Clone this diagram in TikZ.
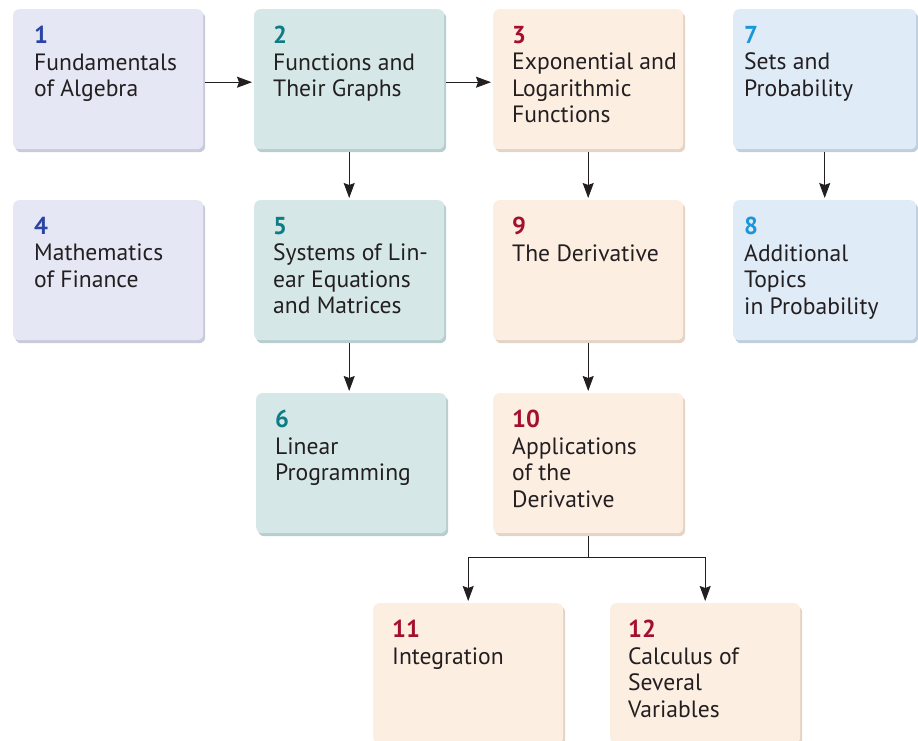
\documentclass[tikz,border=0pt]{standalone}
\usepackage{fontspec}
\setmainfont{PT Sans}
\usetikzlibrary{arrows.meta,shadows}

\definecolor{ink}{HTML}{231F20}
\definecolor{algfill}{HTML}{E6E7F4}
\definecolor{algshade}{HTML}{C9CADB}
\definecolor{algnum}{HTML}{2A44A3}
\definecolor{funfill}{HTML}{D6E7E8}
\definecolor{funshade}{HTML}{B7CDCF}
\definecolor{funnum}{HTML}{0E7C84}
\definecolor{calfill}{HTML}{FDEEE2}
\definecolor{calshade}{HTML}{E4D4C7}
\definecolor{calnum}{HTML}{A3102E}
\definecolor{probfill}{HTML}{DFEBF7}
\definecolor{probshade}{HTML}{C0CFDE}
\definecolor{probnum}{HTML}{1A97D8}

\tikzset{
  chap/.style={anchor=north west, rounded corners=6pt, minimum width=190pt,
    minimum height=140pt, inner sep=0pt},
  alg/.style={chap, fill=algfill,
    drop shadow={shadow xshift=2pt, shadow yshift=-3pt, fill=algshade, opacity=1}},
  fun/.style={chap, fill=funfill,
    drop shadow={shadow xshift=2pt, shadow yshift=-3pt, fill=funshade, opacity=1}},
  cal/.style={chap, fill=calfill,
    drop shadow={shadow xshift=2pt, shadow yshift=-3pt, fill=calshade, opacity=1}},
  prob/.style={chap, fill=probfill,
    drop shadow={shadow xshift=2pt, shadow yshift=-3pt, fill=probshade, opacity=1}},
  lbl/.style={anchor=north west, inner sep=0pt, align=left, text=ink,
    font=\fontsize{23.6pt}{26.5pt}\selectfont},
  link/.style={-{Stealth[length=15pt, width=11pt, inset=2pt]}, line width=1pt,
    draw=ink, shorten >=2pt},
}
\newcommand{\chnum}[2]{{\fontsize{24.5pt}{26.5pt}\selectfont\textbf{\color{#1}#2}}}

\begin{document}
\begin{tikzpicture}[x=1pt, y=-1pt]
    \useasboundingbox (0,0) rectangle (918,741);
    % Cajas de capitulos
    \node[alg] (c1) at (13,9) {};
    \node[fun] (c2) at (254,9) {};
    \node[cal] (c3) at (493,9) {};
    \node[prob, minimum width=183pt] (c7) at (733,9) {};
    \node[alg] (c4) at (13,200) {};
    \node[fun] (c5) at (254,200) {};
    \node[cal] (c9) at (493,200) {};
    \node[prob, minimum width=183pt] (c8) at (733,200) {};
    \node[fun] (c6) at (256,393) {};
    \node[cal] (c10) at (493,393) {};
    \node[cal] (c11) at (373,603) {};
    \node[cal] (c12) at (610,603) {};
    % Textos
    \node[lbl] (t1) at ([shift={(21,17)}]c1.north west) {\chnum{algnum}{1}\\Fundamentals\\of Algebra};
    \node[lbl] (t2) at ([shift={(19,17)}]c2.north west) {\chnum{funnum}{2}\\Functions and\\Their Graphs};
    \node[lbl] (t3) at ([shift={(19,17)}]c3.north west) {\chnum{calnum}{3}\\Exponential and\\Logarithmic\\Functions};
    \node[lbl] (t7) at ([shift={(11,17)}]c7.north west) {\chnum{probnum}{7}\\Sets and\\Probability};
    \node[lbl] (t4) at ([shift={(21,17)}]c4.north west) {\chnum{algnum}{4}\\Mathematics\\of Finance};
    \node[lbl] (t5) at ([shift={(19,17)}]c5.north west) {\chnum{funnum}{5}\\Systems of Lin-\\ear Equations\\and Matrices};
    \node[lbl] (t9) at ([shift={(19,17)}]c9.north west) {\chnum{calnum}{9}\\The Derivative};
    \node[lbl] (t8) at ([shift={(11,17)}]c8.north west) {\chnum{probnum}{8}\\Additional\\Topics\\in Probability};
    \node[lbl] (t6) at ([shift={(19,17)}]c6.north west) {\chnum{funnum}{6}\\Linear\\Programming};
    \node[lbl] (t10) at ([shift={(19,17)}]c10.north west) {\chnum{calnum}{10}\\Applications\\of the\\Derivative};
    \node[lbl] (t11) at ([shift={(19,17)}]c11.north west) {\chnum{calnum}{11}\\Integration};
    \node[lbl] (t12) at ([shift={(18,17)}]c12.north west) {\chnum{calnum}{12}\\Calculus of\\Several\\Variables};
    % Flechas
    \draw[link] ([shift={(2,3)}]c1.east) -- ([yshift=-3pt]c2.west);
    \draw[link] ([shift={(2,3)}]c2.east) -- ([yshift=-3pt]c3.west);
    \draw[link] ([yshift=-3pt]c2.south) -- (c5.north);
    \draw[link] ([yshift=-3pt]c3.south) -- (c9.north);
    \draw[link] ([yshift=-3pt]c7.south) -- (c8.north);
    \draw[link] ([yshift=-3pt]c5.south) -- (c5.south |- c6.north);
    \draw[link] ([yshift=-3pt]c9.south) -- (c10.north);
    \coordinate (split) at ([yshift=-24pt]c10.south);
    \draw[line width=1pt, draw=ink] ([yshift=-3pt]c10.south) -- (split);
    \draw[link] (split) -| (c11.north);
    \draw[link] (split) -| (c12.north);
\end{tikzpicture}
\end{document}
